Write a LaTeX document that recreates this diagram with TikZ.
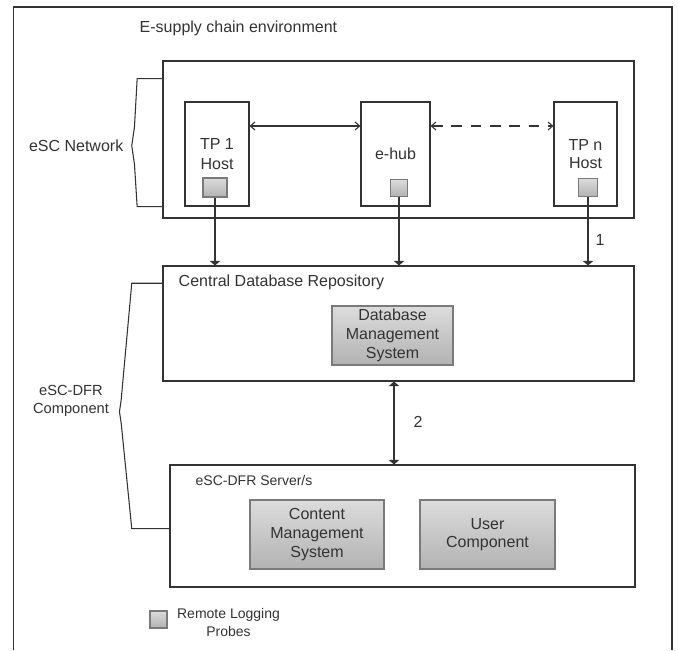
\documentclass[tikz,border=0pt]{standalone}
\usepackage{fontspec}
\setmainfont{Liberation Sans}
\usepackage{xcolor}
\usepackage{tikz}
\usetikzlibrary{arrows.meta, positioning, calc}

\definecolor{inkgray}{HTML}{333333}
\definecolor{shadetop}{HTML}{DCDCDC}
\definecolor{shadebot}{HTML}{B2B2B2}
\definecolor{shadeedge}{HTML}{7A7A7A}

\begin{document}
\begin{tikzpicture}[x=0.75pt, y=-0.75pt,
    font=\fontsize{12}{14}\selectfont, text=inkgray,
    box/.style={draw=inkgray, line width=0.8pt, inner sep=0pt, align=center},
    greybox/.style={draw=shadeedge, line width=0.8pt, top color=shadetop, bottom color=shadebot, inner sep=0pt, align=center},
    small/.style={font=\fontsize{10.5}{13.5}\selectfont},
    link/.style={draw=inkgray, line width=0.8pt},
    flow/.style={link, -{Triangle[length=3.5pt, width=8pt]}},
    peer/.style={link, {Straight Barb[length=3.5pt, width=6pt]}-{Straight Barb[length=3.5pt, width=6pt]}}]
    \useasboundingbox[fill=white] (0,0) rectangle (678,650);

    % environment frame
    \draw[link] (13.5,650) |- (672,7) -- (672,650);
    \node[anchor=west] (envtitle) at (135,28) {E-supply chain environment};

    % eSC network
    \node[box, minimum width=353.25pt, minimum height=117.75pt] (net) at (398.5,139.5) {};
    \node[box, minimum width=48pt, minimum height=78pt, font=\fontsize{12}{15}\selectfont] (tp1) at (217,154) {TP 1\\Host};
    \node[box, minimum width=51.75pt, minimum height=78pt] (hub) at (395.5,154) {e-hub};
    \node[box, minimum width=47.25pt, minimum height=78pt] (tpn) at (585.5,154) {TP n\\Host};

    % probes
    \node[greybox, minimum width=18pt, minimum height=14.25pt] (p1) at (215,187.5) {};
    \node[greybox, minimum width=12.75pt, minimum height=12.75pt] (ph) at (399,188) {};
    \node[greybox, minimum width=13.9pt, minimum height=13.5pt] (pn) at (588,187.5) {};

    \draw[peer] ([yshift=21pt]tp1.east) -- ([yshift=21pt]hub.west);
    \draw[peer, dash pattern=on 8pt off 6.5pt] ([yshift=21pt]hub.east) -- ([yshift=21pt]tpn.west);

    \node[anchor=east] (netlabel) at (128,146) {eSC Network};
    \draw[link] ([yshift=45.6pt]net.west) -- ++(-25.3,0) -- ++(-2.7,48.3) -- ++(-2.7,18.7)
        -- ++(2.7,18.7) -- ++(2.7,42.3) -- ++(25.3,0);

    % central repository
    \node[box, minimum width=353.25pt, minimum height=86.25pt] (cdr) at (398.5,323.5) {};
    \node[anchor=west] (cdrtitle) at (174,282) {Central Database Repository};
    \node[greybox, minimum width=90.75pt, minimum height=44.25pt] (dbms) at (392.5,335.5) {Database\\Management\\System};

    \draw[flow] (p1.south) -- (p1.south |- cdr.north);
    \draw[flow] (ph.south) -- (ph.south |- cdr.north);
    \draw[flow] (pn.south) -- (pn.south |- cdr.north);
    \node (one) at (600,240) {1};

    % eSC-DFR servers
    \node[box, minimum width=348.75pt, minimum height=91.5pt] (srv) at (402.5,526) {};
    \node[small, anchor=west] (srvtitle) at (191,480) {eSC-DFR Server/s};
    \node[greybox, minimum width=100.5pt, minimum height=51.75pt] (cms) at (317,534.5) {Content\\Management\\System};
    \node[greybox, minimum width=101.25pt, minimum height=51.75pt] (usr) at (487.5,534.5) {User\\Component};

    \draw[link, {Triangle[length=3.5pt, width=8pt]}-{Triangle[length=3.5pt, width=8pt]}]
        ($(cdr.south)+(-4.5,0)$) -- ($(srv.north)+(-8.5,0)$);
    \node (two) at (418,422) {2};

    \node[align=center, font=\fontsize{11}{13.5}\selectfont] (dfrlabel) at (71,401) {eSC-DFR\\Component};
    \draw[link] ([yshift=30.2pt]cdr.west) -- ++(-30.7,0) -- ++(-10.6,116.7) -- ++(-1.7,11.7)
        -- ++(1.7,11.3) -- ++(10.6,105.7) -- ([yshift=-2pt]srv.west);

    % legend
    \node[greybox, minimum width=12.75pt, minimum height=12.75pt] (legbox) at (158.5,619.5) {};
    \node[small, align=center] (legtext) at (228.5,622) {Remote Logging\\Probes};
\end{tikzpicture}
\end{document}
